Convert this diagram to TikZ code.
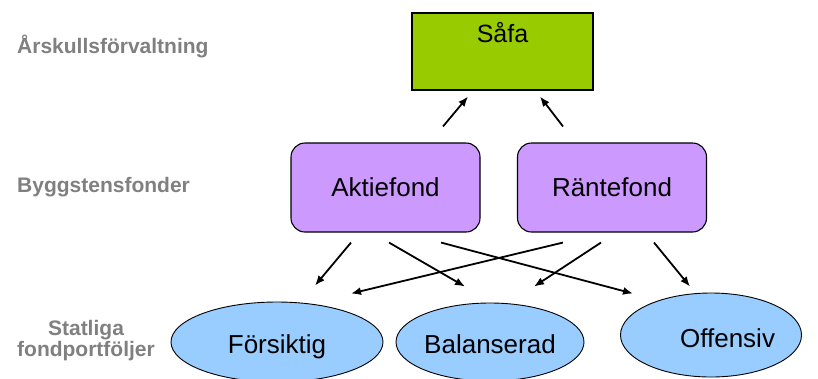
\documentclass[tikz,border=0pt]{standalone}
\usepackage{fontspec}
\setmainfont{Liberation Sans}
\usetikzlibrary{positioning,arrows.meta,shapes.geometric,calc}
\definecolor{safagreen}{HTML}{99CC00}
\definecolor{fondlila}{HTML}{CC99FF}
\definecolor{portblue}{HTML}{99CCFF}
\definecolor{nivagray}{HTML}{808080}
\tikzset{
  fondbox/.style={draw=black, line width=1.1pt, fill=fondlila, rounded corners=14pt,
    minimum width=189pt, minimum height=89pt, font=\fontsize{26}{30}\selectfont},
  portfolj/.style={draw=black, line width=0.9pt, fill=portblue, ellipse, inner sep=0pt,
    text height=26pt, text depth=4pt, font=\fontsize{26}{30}\selectfont},
  niva/.style={text=nivagray, font=\bfseries\fontsize{21}{23}\selectfont, inner sep=0pt},
  pil/.style={line width=1.8pt, -{Latex[length=10pt,width=8pt]}}
}
\begin{document}
\begin{tikzpicture}[x=1pt, y=-1pt]
% pixel grid of the original, y running downwards
\useasboundingbox (0,0) rectangle (818,378);
% level labels
\node[niva, anchor=west] (lvlsafa) at (17,46) {Årskullsförvaltning};
\node[niva, anchor=west] (lvlbygg) at (17,187) {Byggstensfonder};
\node[niva, align=center] (lvlstat) at (86,341) {Statliga\\[-2pt]fondportföljer};
% boxes
\node[draw=black, line width=1.1pt, fill=safagreen, minimum width=181pt, minimum height=77pt,
  label={[anchor=north, inner sep=0pt, yshift=-10pt, font=\fontsize{25}{28}\selectfont]north:Såfa}]
  (safa) at (502.5,51.5) {};
\node[fondbox] (aktie) at (385.5,187.5) {Aktiefond};
\node[fondbox] (rante) at (612,187.5) {Räntefond};
% portfolios
\node[portfolj, minimum width=212pt, minimum height=80pt] (forsiktig) at (277,342) {Försiktig};
\node[portfolj, minimum width=188pt, minimum height=78pt] (balans) at (490,342) {Balanserad};
\node[portfolj, minimum width=172pt, minimum height=84pt, text height=28pt,
  text width=128pt, align=right] (offensiv) at (711,335) {Offensiv};
% arrows
\foreach \a/\ax/\b/\bx/\by in {aktie/-34.5/forsiktig/38/-16,
                               aktie/3.5/balans/-25/-16,
                               aktie/55.5/offensiv/-78/1,
                               rante/-49/forsiktig/74/-8,
                               rante/-11/balans/44/-16,
                               rante/42/offensiv/-21/-6}{%
  \draw[pil] ([shift={(\ax,10)}]\a.south) -- ([shift={(\bx,\by)}]\b.north);}
\draw[pil] ([shift={(57.5,-16)}]aktie.north) -- ([shift={(-34.5,6)}]safa.south);
\draw[pil] ([shift={(-49,-16)}]rante.north) -- ([shift={(37.5,6)}]safa.south);
\end{tikzpicture}
\end{document}
